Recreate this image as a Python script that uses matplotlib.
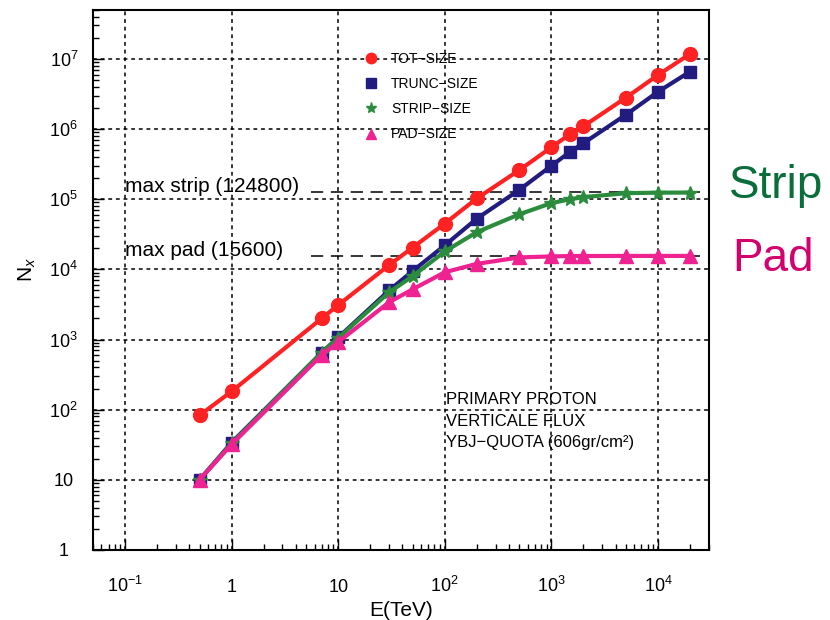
import matplotlib
matplotlib.use('Agg')
import matplotlib.pyplot as plt
from matplotlib.ticker import LogLocator, NullFormatter

plt.rcParams['font.family'] = ['Liberation Sans', 'DejaVu Sans']
plt.rcParams['mathtext.fontset'] = 'custom'
plt.rcParams['mathtext.rm'] = 'Liberation Sans'
plt.rcParams['mathtext.it'] = 'Liberation Sans:italic'

# energies (TeV)
energy = [0.5, 1, 7, 10, 30, 50, 100, 200, 500, 1000, 1500, 2000, 5000, 10000, 20000]

tot_size = [83, 182, 2000, 3100, 11500, 20500, 45000, 103000, 260000, 550000,
            850000, 1.1e6, 2.8e6, 5.9e6, 1.18e7]
trunc_size = [10, 34, 650, 1070, 5000, 9500, 22000, 53000, 136000, 300000,
              475000, 630000, 1.6e6, 3.4e6, 6.6e6]
strip_size = [10, 33, 650, 1050, 4700, 8000, 18000, 34000, 61000, 88000,
              100000, 107000, 122000, 124000, 124500]
pad_size = [10, 32, 600, 920, 3400, 5200, 9100, 12000, 14800, 15300,
            15500, 15500, 15550, 15550, 15550]

max_strip = 124800
max_pad = 15600

xticks = [0.1, 1, 10, 100, 1000, 10000]
xticklabels = ['$10^{-1}$', '1', '10', '$10^{2}$', '$10^{3}$', '$10^{4}$']
yticks = [1, 10, 100, 1e3, 1e4, 1e5, 1e6, 1e7]
yticklabels = ['1', '10', '$10^{2}$', '$10^{3}$', '$10^{4}$', '$10^{5}$', '$10^{6}$', '$10^{7}$']

fig = plt.figure(figsize=(8.3, 6.2), dpi=100)
ax = fig.add_axes([0.112, 0.113, 0.742, 0.871])

ax.set_xscale('log')
ax.set_yscale('log')
ax.set_xlim(0.05, 30000)
ax.set_ylim(1, 5e7)

# grid
for t in xticks:
    ax.axvline(t, color='black', lw=1.1, ls=(0, (2.5, 2.5)), zorder=1)
for t in yticks[1:]:
    ax.axhline(t, color='black', lw=1.1, ls=(0, (2.5, 2.5)), zorder=1)

# max lines
ax.hlines(max_strip, 5.5, 25000, color='black', lw=1.1, ls=(0, (8, 5)), zorder=1)
ax.hlines(max_pad, 5.5, 25000, color='black', lw=1.1, ls=(0, (8, 5)), zorder=1)
ax.text(0.1, max_strip, 'max strip (124800)', fontsize=15, va='baseline', ha='left')
ax.text(0.1, max_pad, 'max pad (15600)', fontsize=15, va='baseline', ha='left')

ax.plot(energy, tot_size, color='#ff2222', lw=3, marker='o', ms=10, zorder=5)
ax.plot(energy, trunc_size, color='#221c80', lw=3, marker='s', ms=9, zorder=4)
ax.plot(energy, strip_size, color='#2a8c3c', lw=3, marker='*', ms=10, zorder=4)
ax.plot(energy, pad_size, color='#ee2290', lw=3, marker='^', ms=9.5, zorder=4)

# legend (markers only)
h1, = ax.plot([], [], ls='none', marker='o', color='#ff2222', ms=7.5)
h2, = ax.plot([], [], ls='none', marker='s', color='#221c80', ms=7)
h3, = ax.plot([], [], ls='none', marker='*', color='#2a8c3c', ms=8)
h4, = ax.plot([], [], ls='none', marker='^', color='#ee2290', ms=7.5)
ax.legend([h1, h2, h3, h4], ['TOT−SIZE', 'TRUNC−SIZE', 'STRIP−SIZE', 'PAD−SIZE'],
          loc='upper left', bbox_to_anchor=(0.441, 0.922), frameon=False,
          fontsize=10, handlelength=1.0, handletextpad=0.9, labelspacing=0.8,
          borderpad=0, borderaxespad=0)

ax.text(0.573, 0.292, 'PRIMARY PROTON\nVERTICALE FLUX\nYBJ−QUOTA (606gr/cm²)',
        transform=ax.transAxes, fontsize=12, va='top', ha='left', linespacing=1.55)

ax.set_xticks(xticks)
ax.set_xticklabels(xticklabels)
ax.set_yticks(yticks)
ax.set_yticklabels(yticklabels)
ax.xaxis.set_minor_locator(LogLocator(base=10, subs=range(2, 10), numticks=20))
ax.yaxis.set_minor_locator(LogLocator(base=10, subs=range(2, 10), numticks=20))
ax.xaxis.set_minor_formatter(NullFormatter())
ax.yaxis.set_minor_formatter(NullFormatter())
ax.tick_params(which='both', direction='in', top=False, right=False, labelsize=13)
ax.tick_params(which='major', length=8, width=1)
ax.tick_params(which='minor', length=4, width=1)
ax.tick_params(axis='x', pad=30)
ax.tick_params(axis='y', pad=21)
for lbl in ax.get_xticklabels():
    lbl.set_va('baseline')
for lbl in ax.get_yticklabels():
    lbl.set_ha('center')
for s in ax.spines.values():
    s.set_linewidth(1.5)

ax.set_xlabel('E(TeV)', fontsize=15, labelpad=4)
ax.set_ylabel('N$_x$', fontsize=15)
ax.yaxis.set_label_coords(-0.09, 0.52)

fig.text(0.878, 0.680, 'Strip', fontsize=33, color='#0a6e3a', va='baseline')
fig.text(0.882, 0.563, 'Pad', fontsize=33, color='#d4006e', va='baseline')

fig.savefig('out.png', dpi=100)
